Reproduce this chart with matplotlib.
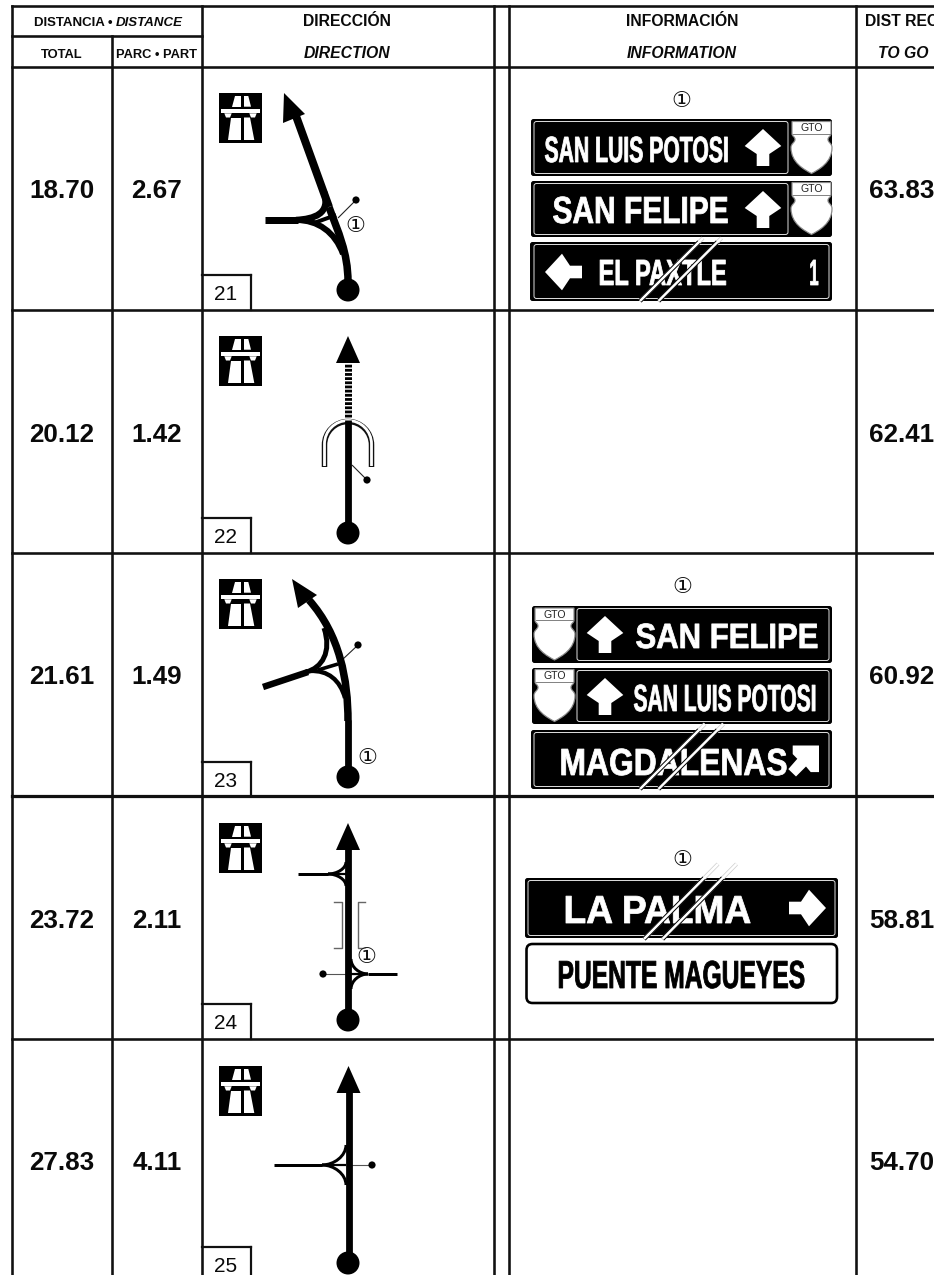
import matplotlib
matplotlib.use('Agg')
import numpy as np
import matplotlib.pyplot as plt
import matplotlib.patheffects as pe
from matplotlib.patches import Circle, FancyBboxPatch, PathPatch, Polygon, Rectangle
from matplotlib.path import Path
from matplotlib.transforms import Affine2D

plt.rcParams['font.family'] = ['Liberation Sans', 'DejaVu Sans']
plt.rcParams['lines.scale_dashes'] = False

# --- table content ---
TOTALS = ['18.70', '20.12', '21.61', '23.72', '27.83']
PARTIALS = ['2.67', '1.42', '1.49', '2.11', '4.11']
TO_GO = ['63.83', '62.41', '60.92', '58.81', '54.70']
KM_LABELS = ['21', '22', '23', '24', '25']

ROW_LINES = [67, 310, 553, 796, 1039]
COL_LINES = [112, 202, 494, 509, 855.5]
CIRCLED = '\u2460'

fig = plt.figure(figsize=(9.34, 12.75), dpi=100)
ax = fig.add_axes([0, 0, 1, 1])
ax.set_xlim(0, 934)
ax.set_ylim(1275, 0)
ax.axis('off')
renderer = fig.canvas.get_renderer()


def px(v):
    return v * 0.72


class SqueezeX(pe.AbstractPathEffect):
    # sign lettering is condensed, so scale the glyphs sideways round cx
    def __init__(self, factor, cx):
        super().__init__()
        self.factor = factor
        self.cx = cx

    def draw_path(self, renderer, gc, tpath, affine, rgbFace=None):
        squeeze = Affine2D().translate(-self.cx, 0).scale(self.factor, 1).translate(self.cx, 0)
        gc0 = renderer.new_gc()
        gc0.copy_properties(gc)
        gc0.set_linewidth(px(0.8))
        gc0.set_foreground(rgbFace)
        super().draw_path(renderer, gc0, tpath, affine + squeeze, rgbFace)
        gc0.restore()


def rule(x0, y0, x1, y1, w=2.6, color='#111111', z=5):
    ax.plot([x0, x1], [y0, y1], color=color, lw=px(w), solid_capstyle='projecting', zorder=z)


def sign_label(txt, x0, x1, y0, y1, color='white', z=8):
    t = ax.text((x0 + x1) / 2, y1, txt, color=color, fontweight='bold', fontsize=(y1 - y0) * 0.97,
                ha='center', va='baseline', zorder=z)
    width = t.get_window_extent(renderer).width
    t.set_path_effects([SqueezeX((x1 - x0 - 1) / width, (x0 + x1) / 2)])


def rounded(x0, y0, x1, y1, r, fc, ec='none', w=0, z=6):
    ax.add_patch(FancyBboxPatch((x0, y0), x1 - x0, y1 - y0, boxstyle=f'round,pad=0,rounding_size={r}',
                                fc=fc, ec=ec, lw=px(w), zorder=z))


def black_sign(x0, y0, x1, y1, ix0, ix1):
    rounded(x0, y0, x1, y1, 2.5, 'black')
    rounded(ix0, y0 + 2.5, ix1, y1 - 2.5, 2.5, 'none', '#d8d8d8', 1.0, z=7)


def sign_arrow(tx, ty, angle=0):
    # outline is given with the tip at the origin, pointing up
    pts = np.array([(0, 0), (18.3, 17), (6.3, 25), (6.3, 37), (-6.3, 37), (-6.3, 25), (-18.3, 17)], dtype=float)
    a = np.radians(angle)
    rot = np.array([[np.cos(a), -np.sin(a)], [np.sin(a), np.cos(a)]])
    pts = pts @ rot.T + (tx, ty)
    ax.add_patch(Polygon(pts, closed=True, fc='white', ec='none', zorder=8))


def corner_arrow(tx, ty):
    # arrow pointing up and right, tip is the top right corner
    pts = [(0, 0), (-26.3, 0), (-26.3, 8.6), (-21.7, 13.3), (-30.7, 23.6), (-23, 31), (-13, 21), (-8.3, 26.6), (0, 26.6)]
    ax.add_patch(Polygon([(tx + x, ty + y) for x, y in pts], closed=True, fc='white', ec='none', zorder=8))


def shield(x0, y0):
    codes = [Path.MOVETO, Path.LINETO, Path.LINETO,
             Path.CURVE4, Path.CURVE4, Path.CURVE4, Path.CURVE4, Path.CURVE4, Path.CURVE4,
             Path.CURVE4, Path.CURVE4, Path.CURVE4, Path.CURVE4, Path.CURVE4, Path.CURVE4,
             Path.CURVE4, Path.CURVE4, Path.CURVE4, Path.CURVE4, Path.CURVE4, Path.CURVE4,
             Path.CLOSEPOLY]
    verts = [(1, 0), (40, 0), (40, 12),
             (40, 15), (37, 15), (37, 18), (37, 21), (41, 22), (41, 26),
             (41, 41), (28, 48), (20.5, 52), (13, 48), (0, 41), (0, 26),
             (0, 22), (4, 21), (4, 18), (4, 15), (1, 15), (1, 12),
             (1, 0)]
    verts = [(x0 + x, y0 + y) for x, y in verts]
    ax.add_patch(PathPatch(Path(verts, codes), fc='white', ec='#8a8a8a', lw=px(1.2), zorder=8))
    ax.plot([x0 + 2, x0 + 39], [y0 + 12, y0 + 12], color='#777777', lw=px(0.9), zorder=9)
    ax.text(x0 + 20.5, y0 + 9.5, 'GTO', fontsize=7.6, color='#222222', ha='center', va='baseline', zorder=10)


def slash(x0, y0, x1, y1, sign_top):
    # double line drawn across a sign, paler where it runs off the sign
    for xa, xb in ((x0, x1), (x0 + 18.5, x1 + 18.5)):
        ax.plot([xa, xb], [y0, y1], color='#d0d0d0', lw=px(4), solid_capstyle='butt', zorder=9)
        ym = max(sign_top, y1)
        xm = xa + (xb - xa) * (y0 - ym) / (y0 - y1)
        ax.plot([xa, xm], [y0, ym], color='black', lw=px(4.4), solid_capstyle='butt', zorder=9)
        ax.plot([xa, xb], [y0, y1], color='white', lw=px(2.5), solid_capstyle='butt', zorder=9)


def circled(x, y, size=16):
    ax.text(x, y, CIRCLED, fontsize=size, family='DejaVu Sans', ha='center', va='center', color='#111111', zorder=12)


def highway_icon(x0, y0):
    ax.add_patch(Rectangle((x0, y0), 43, 50, fc='black', ec='none', zorder=4))
    shapes = [[(16, 3), (22, 3), (22, 13.7), (13.3, 13.7)],
              [(25, 3), (29.3, 3), (32, 13.7), (25, 13.7)],
              [(2, 16.3), (41, 16.3), (41, 20.3), (2, 20.3)],
              [(5.3, 20.3), (12.7, 20.3), (11, 24.5), (7, 24.5)],
              [(30.3, 20.3), (37.7, 20.3), (36, 24.5), (32, 24.5)],
              [(12, 24.5), (22, 24.5), (22, 47), (8.7, 47)],
              [(25, 24.5), (31, 24.5), (35.3, 47), (25, 47)]]
    for s in shapes:
        ax.add_patch(Polygon([(x0 + x, y0 + y) for x, y in s], closed=True, fc='white', ec='none', zorder=5))


def road(verts, w=6.5, color='black', z=6, cap='butt'):
    # verts: start point, then cubic segments (three points each)
    codes = [Path.MOVETO] + [Path.CURVE4] * (len(verts) - 1)
    ax.add_patch(PathPatch(Path(verts, codes), fc='none', ec=color, lw=px(w), capstyle=cap, zorder=z))


def line(x0, y0, x1, y1, w=6.5, color='black', z=6):
    ax.plot([x0, x1], [y0, y1], color=color, lw=px(w), solid_capstyle='butt', zorder=z)


def start_dot(x, y):
    ax.add_patch(Circle((x, y), 11.5, fc='black', ec='none', zorder=7))


def leader(x0, y0, x1, y1, color='#222222'):
    line(x0, y0, x1, y1, w=1.1, color=color, z=5)
    ax.add_patch(Circle((x1, y1), 3.6, fc='black', ec='none', zorder=7))


def head(tip, base_a, base_b):
    ax.add_patch(Polygon([tip, base_a, base_b], closed=True, fc='black', ec='none', zorder=7))


def side_branch(xj, xe, y, xm, rise, w=3.0):
    # junction drawn on the main line: stem plus two curved slip roads
    line(xe, y, xj, y, w=w)
    line(xj, y, xm, y, w=2.2)
    road([(xj, y), (xj + (xm - xj) * 0.5, y), (xm, y - rise * 0.45), (xm, y - rise)], w=3)
    road([(xj, y), (xj + (xm - xj) * 0.5, y), (xm, y + rise * 0.45), (xm, y + rise)], w=3)


def baseline_text(x, y, txt, size, ha='center', italic=False, bold=True, **kw):
    ax.text(x, y, txt, fontsize=size, fontweight='bold' if bold else 'normal',
            style='italic' if italic else 'normal', ha=ha, va='baseline', color='#0a0a0a', **kw)


# --- grid ---
for x in [11.5] + COL_LINES:
    y_top = 36 if x == 112 else 6
    rule(x, y_top, x, 1275)
rule(11.5, 6, 934, 6)
rule(11.5, 36, 202, 36)
for y in ROW_LINES:
    rule(11.5, y, 934, y)
rule(11.5, 796, 934, 796, w=3.2)

# --- headers ---
baseline_text(112.5, 26.5, 'DISTANCIA \u2022', 9.5, ha='right')
baseline_text(115.5, 26.5, 'DISTANCE', 9.5, ha='left', italic=True)
baseline_text(62, 57.5, 'TOTAL', 9.3)
baseline_text(157, 57.5, 'PARC \u2022 PART', 9.3)
baseline_text(347.5, 26.5, 'DIRECCI\u00d3N', 11.3)
baseline_text(347.5, 58, 'DIRECTION', 11.3, italic=True)
baseline_text(682, 26.5, 'INFORMACI\u00d3N', 11.3)
baseline_text(682, 58, 'INFORMATION', 11.3, italic=True)
baseline_text(865, 26.5, 'DIST REC', 11.3, ha='left')
baseline_text(878, 58, 'TO GO', 11.3, ha='left', italic=True)

# --- rows: distances, highway icon, km box ---
for i, (total, part, togo, km) in enumerate(zip(TOTALS, PARTIALS, TO_GO, KM_LABELS)):
    y_base = ROW_LINES[i] + 131.5
    baseline_text(62, y_base, total, 18.7)
    baseline_text(157, y_base, part, 18.7)
    baseline_text(869, y_base, togo, 18.7, ha='left')
    highway_icon(219, ROW_LINES[i] + [26, 26, 26, 27, 27][i])
    box_top = ROW_LINES[i] + [208, 208, 209, 208, 208][i]
    box_bot = ROW_LINES[i + 1] if i < 4 else 1275
    rule(202, box_top, 251, box_top, w=2.2)
    rule(251, box_top, 251, box_bot, w=2.2)
    baseline_text(225.5, box_top + 25, km, 15, bold=False)

# --- route 21 ---
road([(329, 207), (338, 232), (348, 252), (348, 282)], w=7.5)
line(329, 207, 296, 116, w=8)
head((284, 93), (283, 123), (305, 114))
line(265, 220, 298, 220, w=7)
road([(296, 220), (314, 219), (331, 214), (324, 192)], w=6.5)
road([(296, 220), (318, 220), (335, 232), (343, 254)], w=6)
line(314, 223, 336, 215, w=4)
leader(338, 218, 356, 200)
circled(355.5, 226)
start_dot(348, 290)

# --- route 22 ---
line(348, 420, 348, 530, w=6.8)
ax.plot([348, 348], [417, 363], color='black', lw=px(7), linestyle=(0, (2.0, 1.0)), dash_capstyle='butt', zorder=6)
head((348, 336), (336, 363), (360, 363))
u_turn = [(324.5, 467), (324.5, 460), (324.5, 452), (324.5, 445), (324.5, 432), (335, 421.5), (348, 421.5),
          (361, 421.5), (371.5, 432), (371.5, 445), (371.5, 452), (371.5, 460), (371.5, 467)]
road(u_turn, w=5.5, color='#111111', z=4)
road([(x, y - 1) for x, y in u_turn], w=2.8, color='white', z=5)
leader(352, 465, 367, 480)
start_dot(348, 533)

# --- route 23 ---
line(348, 775, 348, 720, w=6.8)
road([(348, 721), (348, 680), (340, 635), (309, 600)], w=7.5)
head((292, 579), (298, 608), (317, 595))
line(263, 687, 308, 672, w=6.5)
road([(306, 672), (322, 668), (332, 652), (324, 628)], w=5)
road([(310, 671), (328, 670), (340, 680), (345, 698)], w=4.4)
line(318, 670, 338, 664, w=3.6)
leader(342, 660, 358, 645)
circled(367.5, 758)
start_dot(348, 777)

# --- route 24 ---
line(348, 1020, 348, 848, w=6.8)
head((348, 823), (336, 850), (360, 850))
side_branch(328, 298, 874, 346, 12)
side_branch(368, 397, 974, 351, 15)
leader(368, 974, 323, 974, color='#555555')
for x_a, x_b in ((342, 334), (358, 365)):
    ax.plot([x_b, x_a, x_a, x_b], [902, 902, 948, 948], color='#666666', lw=px(1.4), zorder=5)
ax.add_patch(Circle((366, 957), 8.5, fc='white', ec='none', zorder=11))
circled(366, 957)
start_dot(348, 1020)

# --- route 25 ---
line(348.5, 1263, 348.5, 1091, w=6.8)
head((348.5, 1066), (336.5, 1093), (360.5, 1093))
side_branch(322, 274, 1165, 346, 20)
leader(350, 1165, 372, 1165, color='#555555')
start_dot(348, 1263)

# --- signs km 21 ---
circled(681, 101)
black_sign(531, 119, 832, 176, 534, 788)
sign_label('SAN LUIS POTOSI', 544, 729, 135, 162)
sign_arrow(763, 129)
shield(791, 121.5)
black_sign(531, 181, 832, 237, 534, 788)
sign_label('SAN FELIPE', 552, 729, 195, 223)
sign_arrow(763, 191)
shield(791, 182.5)
black_sign(530, 242, 832, 301, 534, 829)
sign_arrow(545, 272, angle=-90)
sign_label('EL PAXTLE', 598, 727, 258, 285)
sign_label('1', 809, 819, 258, 285)
slash(640, 301, 703, 238, 242)

# --- signs km 23 ---
circled(682, 587)
black_sign(532, 606, 832, 663, 577, 829)
shield(534, 608)
sign_arrow(605, 616)
sign_label('SAN FELIPE', 635, 819, 622, 648)
black_sign(532, 668, 832, 724, 577, 829)
shield(534, 669.5)
sign_arrow(605, 678)
sign_label('SAN LUIS POTOSI', 633, 817, 683, 711)
black_sign(531, 730, 832, 789, 534, 829)
sign_label('MAGDALENAS', 559, 788, 747, 775)
corner_arrow(819, 745.5)
slash(640, 789, 705, 724, 730)

# --- signs km 24 ---
circled(682, 860)
black_sign(525, 878, 838, 938, 528, 835)
sign_label('LA PALMA', 563, 752, 894, 923)
sign_arrow(826, 908, angle=90)
slash(644, 939, 718, 864, 878)
rounded(526.5, 944, 837, 1003, 6, 'white', 'black', 2.6)
sign_label('PUENTE MAGUEYES', 557, 806, 959, 988, color='black')

fig.savefig('out.png', dpi=100)
